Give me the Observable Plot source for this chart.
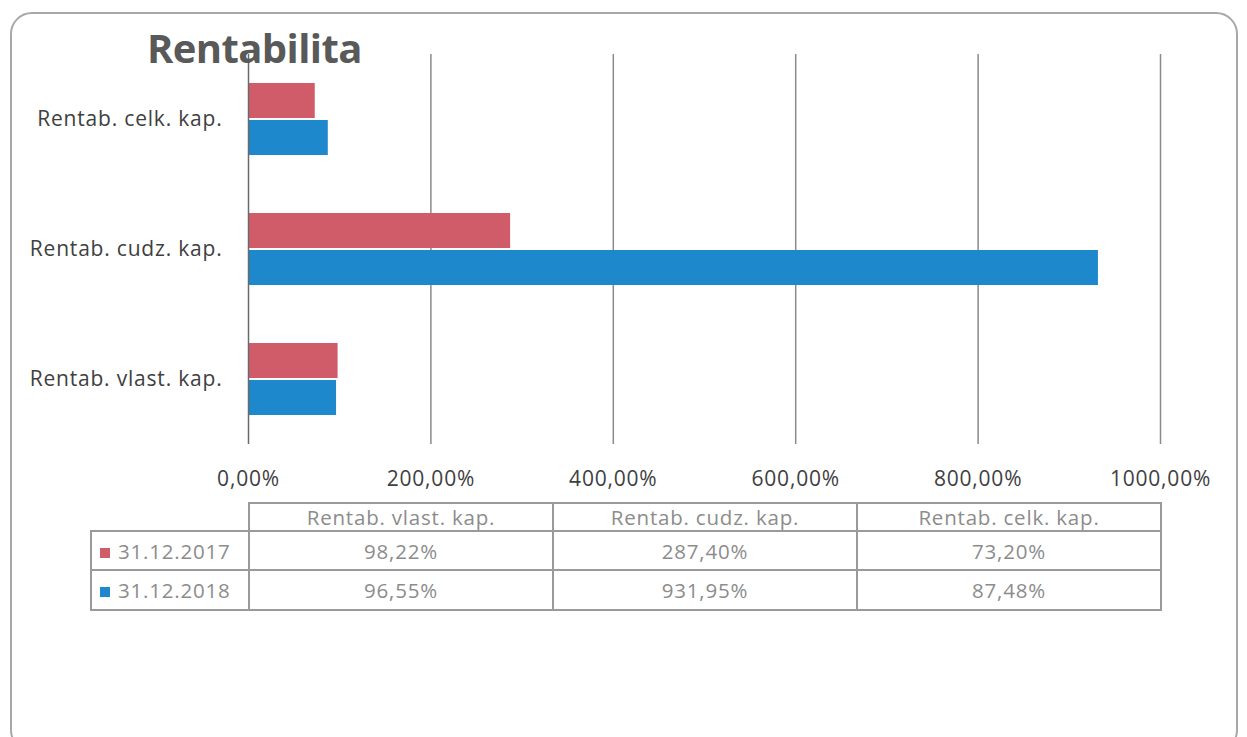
<!DOCTYPE html>
<html>
<head>
<meta charset="utf-8">
<script src="https://cdn.jsdelivr.net/npm/d3@7"></script>
<script src="https://cdn.jsdelivr.net/npm/@observablehq/plot@0.6"></script>
<style>
  html, body { margin: 0; padding: 0; background: #fff; }
  #page { position: relative; width: 1247px; height: 737px; overflow: hidden; font-family: "Open Sans", Lato, sans-serif; }
  #frame { position: absolute; left: 10px; top: 12px; width: 1228px; height: 740px; border: 2px solid #a8a8a8; border-radius: 22px; box-sizing: border-box; }
  #chart { position: absolute; left: 0; top: 0; }
  #chart svg text { letter-spacing: 0.8px; }
  #title { position: absolute; left: 147px; top: 28px; font-size: 40px; line-height: 40px; font-weight: 700; color: #595959; z-index: 2; letter-spacing: -0.6px; }
  #tbl { position: absolute; left: 90px; top: 502px; border-collapse: collapse; table-layout: fixed; width: 1072px; font-size: 20.5px; line-height: 24px; letter-spacing: 0.8px; color: #8c8c8c; }
  #tbl td { border: 2px solid #9a9a9a; text-align: center; padding: 0; white-space: nowrap; }
  #tbl td.empty { border-top: none; border-left: none; }
  #tbl td.leg { text-align: left; padding-left: 8px; }
  .sw { display: inline-block; width: 10px; height: 10px; margin-right: 8px; vertical-align: 1px; }
</style>
</head>
<body>
<div id="page">
  <div id="frame"></div>
  <div id="chart"></div>
  <div id="title">Rentabilita</div>
  <table id="tbl"></table>
</div>
<script>
const categories = ["Rentab. vlast. kap.", "Rentab. cudz. kap.", "Rentab. celk. kap."];
const series = ["31.12.2017", "31.12.2018"];
const values2017 = [98.22, 287.40, 73.20];
const values2018 = [96.55, 931.95, 87.48];
const xTicks = [0, 200, 400, 600, 800, 1000];
const colors = ["#d15c69", "#1e88cc"];

const seriesValues = [values2017, values2018];
const data = series.flatMap((s, i) => categories.map((c, j) => ({ series: s, category: c, value: seriesValues[i][j] })));
const fmt = v => v.toFixed(2).replace(".", ",") + "%";

const chart = Plot.plot({
  width: 1247,
  height: 510,
  marginLeft: 248,
  marginRight: 87,
  marginTop: 53,
  marginBottom: 65,
  style: { fontSize: "21px", fontFamily: "'Open Sans', Lato, sans-serif", color: "#404040", background: "transparent" },
  x: { domain: [0, 1000], ticks: xTicks, tickFormat: fmt, tickSize: 0, tickPadding: 27, label: null },
  fy: { domain: [...categories].reverse(), padding: 0, label: null, tickSize: 0, tickPadding: 26, axis: "left" },
  y: { domain: series, paddingInner: 0.05, paddingOuter: 0.74, axis: null },
  color: { domain: series, range: colors },
  marks: [
    Plot.ruleX(xTicks.slice(1), { stroke: "#8a8a8a", strokeWidth: 1.5 }),
    Plot.barX(data, { x: "value", y: "series", fy: "category", fill: "series" }),
    Plot.ruleX([0], { stroke: "#6a6a6a", strokeWidth: 1.5 })
  ]
});
document.getElementById("chart").appendChild(chart);

// data table
const tbl = document.getElementById("tbl");
const widths = [158, 304, 304, 304];
const heights = [28, 39, 40];
let html = `<colgroup>${widths.map(w => `<col style="width:${w}px">`).join("")}</colgroup>`;
html += `<tr style="height:${heights[0]}px"><td class="empty"></td>` +
  categories.map(c => `<td>${c}</td>`).join("") + "</tr>";
series.forEach((s, i) => {
  html += `<tr style="height:${heights[i + 1]}px"><td class="leg"><span class="sw" style="background:${colors[i]}"></span>${s}</td>` +
    seriesValues[i].map(v => `<td>${fmt(v)}</td>`).join("") + "</tr>";
});
tbl.innerHTML = html;
</script>
</body>
</html>
